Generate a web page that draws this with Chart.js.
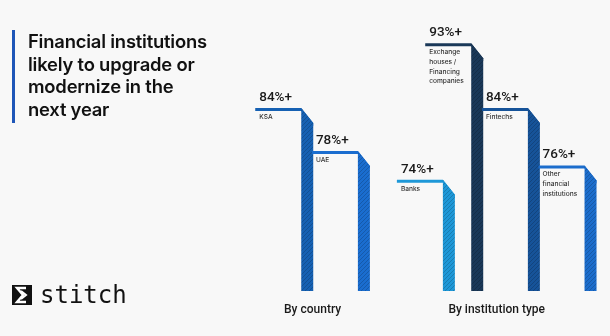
<!DOCTYPE html>
<html>
<head>
<meta charset="utf-8">
<script src="https://cdn.jsdelivr.net/npm/chart.js@4"></script>
<style>
  html, body { margin: 0; padding: 0; background: #f8f8f8; overflow: hidden; }
  #wrap { position: relative; width: 610px; height: 336px; }
  #chart { position: absolute; left: 0; top: 0; }
  .title {
    position: absolute; left: 12px; top: 30px; height: 93px;
    border-left: 3px solid #1f56b8; padding-left: 13px;
    font-family: Inter, sans-serif; font-weight: 600; font-size: 18.4px;
    line-height: 22.7px; color: #111; margin-top: 0px; letter-spacing: -0.2px;
  }
  .logo { position: absolute; left: 12px; top: 284px; display: flex; align-items: center; }
  .logo span {
    font-family: "DejaVu Sans Mono", monospace; font-size: 24px; color: #111;
    margin-left: 8px; line-height: 22px;
  }
</style>
</head>
<body>
<div id="wrap">
  <canvas id="chart" width="610" height="336"></canvas>
  <div class="title">Financial institutions<br>likely to upgrade or<br>modernize in the<br>next year</div>
  <div class="logo">
    <svg width="20" height="20" viewBox="0 0 20 20">
      <rect x="0" y="0" width="20" height="20" fill="#111"/>
      <polyline points="14,3 5,3 11,10 5,17 14,17" fill="none" stroke="#fff" stroke-width="2.4"/>
      <polyline points="9,6 14,10 9,14" fill="none" stroke="#fff" stroke-width="2"/>
    </svg>
    <span>stitch</span>
  </div>
</div>
<script>
// values
const categories = ['KSA', 'UAE', 'Banks', 'Exchange houses / Financing companies', 'Fintechs', 'Other financial institutions'];
const nameLines = [['KSA'], ['UAE'], ['Banks'], ['Exchange', 'houses /', 'Financing', 'companies'], ['Fintechs'], ['Other', 'financial', 'institutions']];
const values = [84, 78, 74, 93, 84, 76];
const groupOf = [0, 0, 1, 1, 1, 1];
const groupLabels = ['By country', 'By institution type'];
const barColors = ['#1661b3', '#1a6dcf', '#1e98d8', '#1a3858', '#165399', '#1c6dcc'];

// banks sits a step in front of the exchange houses bar
const backRow = values.map((v, i) => categories[i] === 'Banks' ? null : v);
const frontRow = values.map((v, i) => categories[i] === 'Banks' ? v : null);

function hatch(color) {
  const c = document.createElement('canvas');
  c.width = 4; c.height = 4;
  const g = c.getContext('2d');
  g.fillStyle = color;
  g.fillRect(0, 0, 4, 4);
  g.strokeStyle = 'rgba(0,0,0,0.22)';
  g.lineWidth = 0.8;
  g.beginPath();
  g.moveTo(-1, 5); g.lineTo(5, -1);
  g.stroke();
  return g.createPattern(c, 'repeat');
}

const stepBars = {
  id: 'stepBars',
  afterDatasetsDraw(chart) {
    const ctx = chart.ctx;
    const lineLen = 46, lineW = 3, drop = 15;
    const bottom = chart.chartArea.bottom;
    const extents = groupLabels.map(() => [Infinity, -Infinity]);
    ctx.save();
    chart.data.datasets.forEach((ds, di) => {
      chart.getDatasetMeta(di).data.forEach((el, i) => {
        if (ds.data[i] == null) return;
        const w = el.width;
        const xl = el.x - w / 2, xr = el.x + w / 2, y = el.y;
        const base = Math.min(el.base, bottom);
        const x0 = xl - lineLen;
        // top line
        ctx.fillStyle = barColors[i];
        ctx.beginPath();
        ctx.moveTo(x0, y);
        ctx.lineTo(xl, y);
        ctx.lineTo(xr, y + drop);
        ctx.lineTo(xr, y + drop + lineW);
        ctx.lineTo(xl, y + lineW);
        ctx.lineTo(x0, y + lineW);
        ctx.closePath();
        ctx.fill();
        // hatched upright
        ctx.fillStyle = hatch(barColors[i]);
        ctx.beginPath();
        ctx.moveTo(xl, y);
        ctx.lineTo(xr, y + drop);
        ctx.lineTo(xr, base);
        ctx.lineTo(xl, base);
        ctx.closePath();
        ctx.fill();
        // value and name
        ctx.fillStyle = '#1a1a1a';
        ctx.textAlign = 'left';
        ctx.textBaseline = 'alphabetic';
        ctx.font = '500 13.5px Roboto';
        ctx.fillText(ds.data[i] + '%+', x0 + 4, y - 7);
        ctx.font = '500 6.6px Inter';
        ctx.fillStyle = '#333';
        ctx.textBaseline = 'middle';
        nameLines[i].forEach((t, k) => ctx.fillText(t, x0 + 4, y + 9 + k * 9.7));
        const g = extents[groupOf[i]];
        g[0] = Math.min(g[0], x0);
        g[1] = Math.max(g[1], xr);
      });
    });
    ctx.fillStyle = '#1a1a1a';
    ctx.font = '500 12px Roboto';
    ctx.textAlign = 'center';
    ctx.textBaseline = 'middle';
    groupLabels.forEach((t, gi) => {
      const [a, b] = extents[gi];
      ctx.fillText(t, (a + b) / 2, 310);
    });
    ctx.restore();
  }
};

new Chart(document.getElementById('chart').getContext('2d'), {
  type: 'bar',
  data: {
    labels: categories,
    datasets: [
      { data: backRow, backgroundColor: 'rgba(0,0,0,0)', barPercentage: 1, categoryPercentage: 1, maxBarThickness: 12 },
      { data: frontRow, backgroundColor: 'rgba(0,0,0,0)', barPercentage: 1, categoryPercentage: 1, maxBarThickness: 12 }
    ]
  },
  options: {
    responsive: false,
    animation: false,
    events: [],
    layout: { padding: { left: 321.4, right: 5.3, top: 29, bottom: 45 } },
    plugins: { legend: { display: false }, tooltip: { enabled: false } },
    scales: {
      x: { type: 'category', offset: false, display: false },
      y: { min: 58.5, max: 95, display: false }
    }
  },
  plugins: [stepBars]
});
</script>
</body>
</html>
